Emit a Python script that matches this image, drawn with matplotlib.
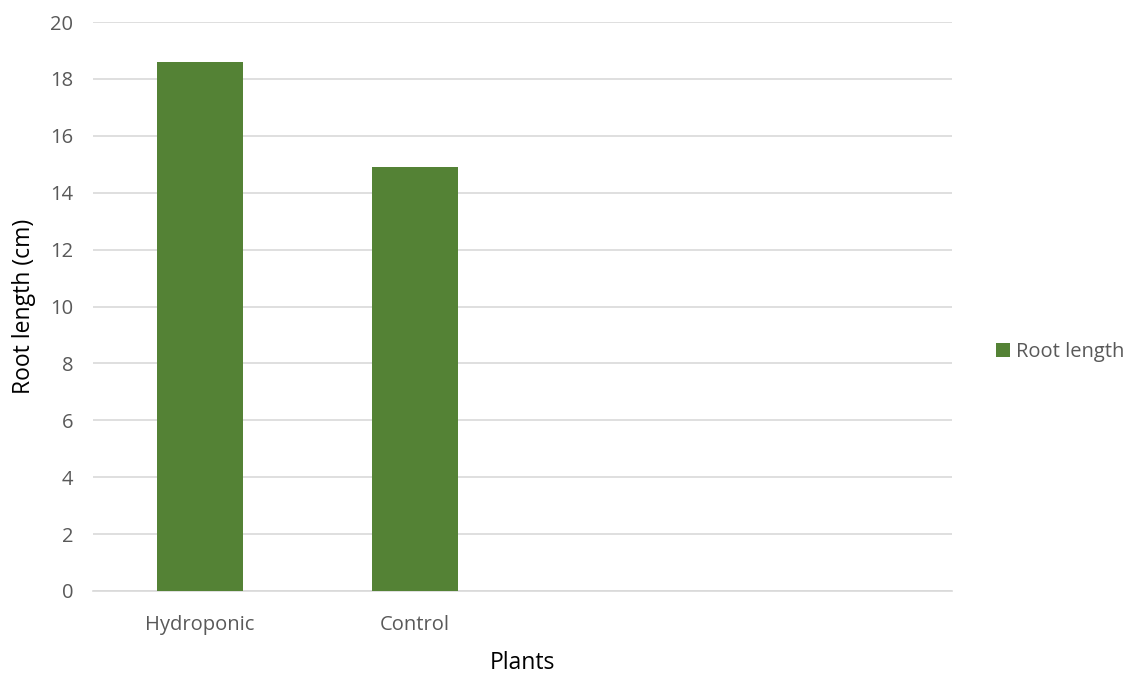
import matplotlib.pyplot as plt
from matplotlib.patches import Patch

# chart data
categories = ["Hydroponic", "Control", "", ""]
root_length = [18.6, 14.9, 0, 0]
series_name = "Root length"

plt.rcParams["font.family"] = ["Open Sans", "DejaVu Sans"]

fig = plt.figure(figsize=(11.33, 6.75), dpi=100)
ax = fig.add_axes([92.5 / 1133, 84 / 675, 860 / 1133, 569 / 675])

x = range(len(categories))
ax.bar(x, root_length, width=0.4, color="#548235", zorder=3)

ax.set_xlim(-0.5, len(categories) - 0.5)
ax.set_ylim(0, 20)
ax.set_yticks(range(0, 21, 2))
ax.set_xticks(list(x))
ax.set_xticklabels(categories)

ax.grid(axis="y", color="#d9d9d9", linewidth=1.2, zorder=0)
for s in ["top", "right", "left"]:
    ax.spines[s].set_visible(False)
ax.spines["bottom"].set_color("#d9d9d9")
ax.spines["bottom"].set_linewidth(1.2)
ax.tick_params(axis="both", length=0, labelsize=14.5, labelcolor="#595959")
ax.tick_params(axis="x", pad=17)
ax.tick_params(axis="y", pad=14)

ax.set_xlabel("Plants", fontsize=16.5, color="black", labelpad=12)
ax.set_ylabel("Root length (cm)", fontsize=16.5, color="black", labelpad=10)

handle = Patch(facecolor="#548235", label=series_name)
fig.legend(handles=[handle], loc="center left", bbox_to_anchor=(978 / 1133, (675 - 352) / 675),
           frameon=False, fontsize=14.5, handlelength=0.7, handleheight=0.7,
           handletextpad=0.3, labelcolor="#595959")

fig.savefig("out.png", dpi=100)
